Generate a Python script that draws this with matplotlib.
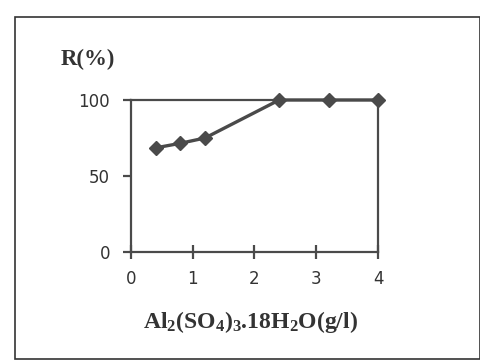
import matplotlib.pyplot as plt
from matplotlib.patches import Rectangle

# dose d'alun (g/l) et rendement d'élimination R (%)
dose = [0.4, 0.8, 1.2, 2.4, 3.2, 4.0]
rendement = [68.5, 71.5, 75, 100, 100, 100]
xticks = [0, 1, 2, 3, 4]
yticks = [0, 50, 100]

plt.rcParams['mathtext.fontset'] = 'custom'
plt.rcParams['mathtext.rm'] = 'Liberation Serif'
plt.rcParams['mathtext.bf'] = 'Liberation Serif:bold'

gris = '#4a4a4a'

fig = plt.figure(figsize=(4.81, 3.61), dpi=100)
ax = fig.add_axes([0.272, 0.302, 0.514, 0.421])

ax.plot(dose, rendement, color=gris, lw=2.4, marker='D', ms=7, mfc=gris, mec=gris,
        clip_on=False, zorder=5)

ax.set_xlim(0, 4)
ax.set_ylim(0, 100)
ax.set_xticks(xticks)
ax.set_yticks(yticks)
for s in ax.spines.values():
    s.set_color(gris)
    s.set_linewidth(1.6)
ax.tick_params(axis='x', direction='inout', length=10, width=1.6, color=gris, pad=8,
               labelsize=12, labelcolor='#333333')
ax.tick_params(axis='y', direction='out', length=6, width=1.6, color=gris, pad=9,
               labelsize=12, labelcolor='#333333')

fig.text(0.127, 0.834, 'R(%)', family='Liberation Serif', weight='bold', fontsize=16.5,
         color='#333333', va='center')
fig.text(0.52, 0.108, r'$\mathbf{Al_2(SO_4)_3.18H_2O(g/l)}$', fontsize=17,
         color='#333333', ha='center', va='center')

# cadre autour de la figure
fig.patches.append(Rectangle((0.031, 0.006), 0.966, 0.947, transform=fig.transFigure,
                             fill=False, ec='#333333', lw=1.2))

fig.savefig('out.png', dpi=100, facecolor='white')
